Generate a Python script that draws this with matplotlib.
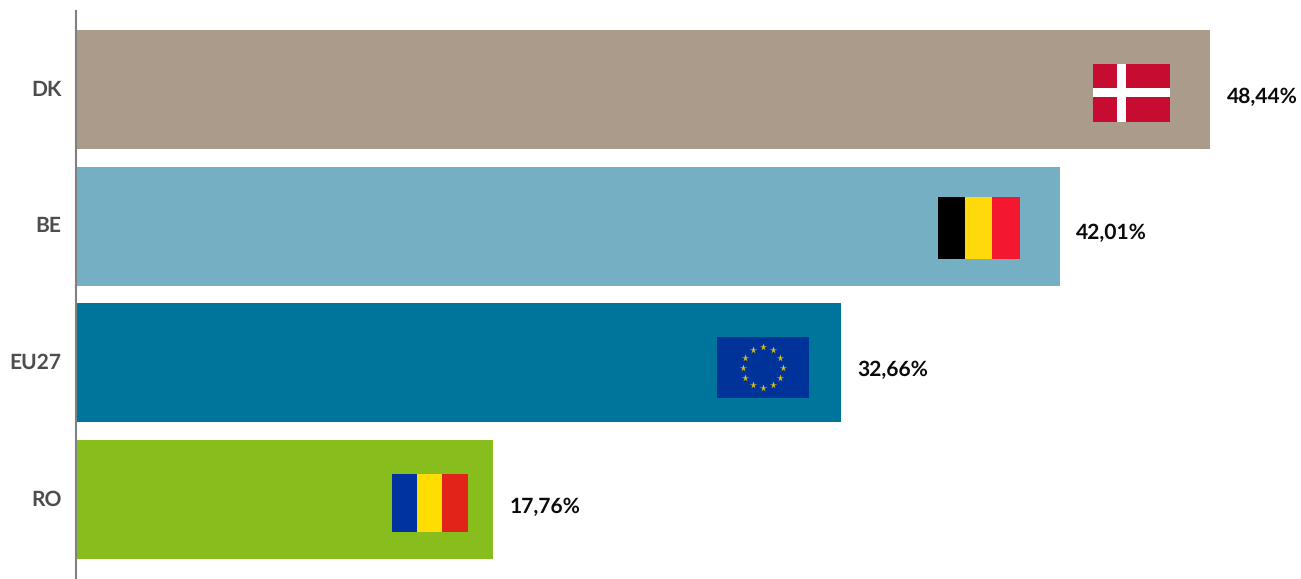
import numpy as np
import matplotlib
matplotlib.use("Agg")
import matplotlib.pyplot as plt
from matplotlib.patches import Rectangle
from matplotlib.transforms import Affine2D

categories = ["DK", "BE", "EU27", "RO"]
values = [48.44, 42.01, 32.66, 17.76]
value_labels = ["48,44%", "42,01%", "32,66%", "17,76%"]
colors = ["#AB9B8A", "#75AFC4", "#00759B", "#88BD1E"]

W, H = 1301, 579
plt.rcParams["font.family"] = ["Lato", "DejaVu Sans"]
plt.rcParams["text.hinting"] = "no_hinting"
plt.rcParams["text.hinting_factor"] = 1
fig = plt.figure(figsize=(W / 100, H / 100), dpi=100, facecolor="white")

# axes area in pixels
left, right, top, bottom = 77.2, 1301, 11, 579
ax = fig.add_axes([left / W, 1 - bottom / H, (right - left) / W, (bottom - top) / H])
PX_PER_UNIT = 1133 / 48.44
PITCH = 136.67
ax.set_xlim(0, (right - left) / PX_PER_UNIT)
y0 = 89.5
ax.set_ylim((bottom - y0) / PITCH, (top - y0) / PITCH)

ypos = np.arange(len(categories))
ax.barh(ypos, values, height=119 / PITCH, color=colors, linewidth=0)

for s in ("top", "right", "bottom"):
    ax.spines[s].set_visible(False)
ax.spines["left"].set_color("#808080")
ax.spines["left"].set_linewidth(1.5)
ax.spines["left"].set_position(("outward", 0.85))
ax.xaxis.set_visible(False)
ax.set_yticks(ypos, categories)
ax.tick_params(axis="y", length=0, pad=10.3, labelsize=15.2, labelcolor="#4D4D4D")
for t in ax.get_yticklabels():
    t.set_fontweight("bold")
    t.set_verticalalignment("center")

# pixel-based transform (image coordinates, y down) for the flags
px = Affine2D().scale(1, -1).translate(0, H) + Affine2D().scale(fig.dpi / 100)


def rect(x0, y0_, x1, y1, c, z=3):
    fig.add_artist(Rectangle((x0, y0_), x1 - x0, y1 - y0_, facecolor=c, edgecolor="none",
                             transform=px, zorder=z))


# value labels
for i, (v, lab) in enumerate(zip(values, value_labels)):
    ax.annotate(lab, xy=(v, i), xytext=(11.9, -5.2), textcoords="offset points",
                ha="left", va="center", fontsize=15.2, fontweight="bold", color="#0A0A0A")

# Denmark
rect(1093, 64, 1170, 122, "#C60C30")
rect(1117, 64, 1126, 122, "white", 4)
rect(1093, 88, 1170, 97, "white", 4)
# Belgium
rect(938, 197, 965, 259, "#000000")
rect(965, 197, 992, 259, "#FFD90C")
rect(992, 197, 1020, 259, "#F31830")
# EU
rect(717, 337, 809, 398, "#003399")
ang = np.deg2rad(np.arange(0, 360, 30))
line = plt.Line2D(762.8 + 20.3 * np.cos(ang), 367.7 + 20.3 * np.sin(ang), linestyle="none",
                  marker="*", markersize=5.5, markerfacecolor="#E6C20A", markeredgecolor="none",
                  transform=px, zorder=5)
fig.add_artist(line)
# Romania
rect(392, 474, 417, 532, "#0033A0")
rect(417, 474, 442, 532, "#FFDD00")
rect(442, 474, 468, 532, "#E2231A")

fig.savefig("out.png", dpi=100, facecolor="white")
